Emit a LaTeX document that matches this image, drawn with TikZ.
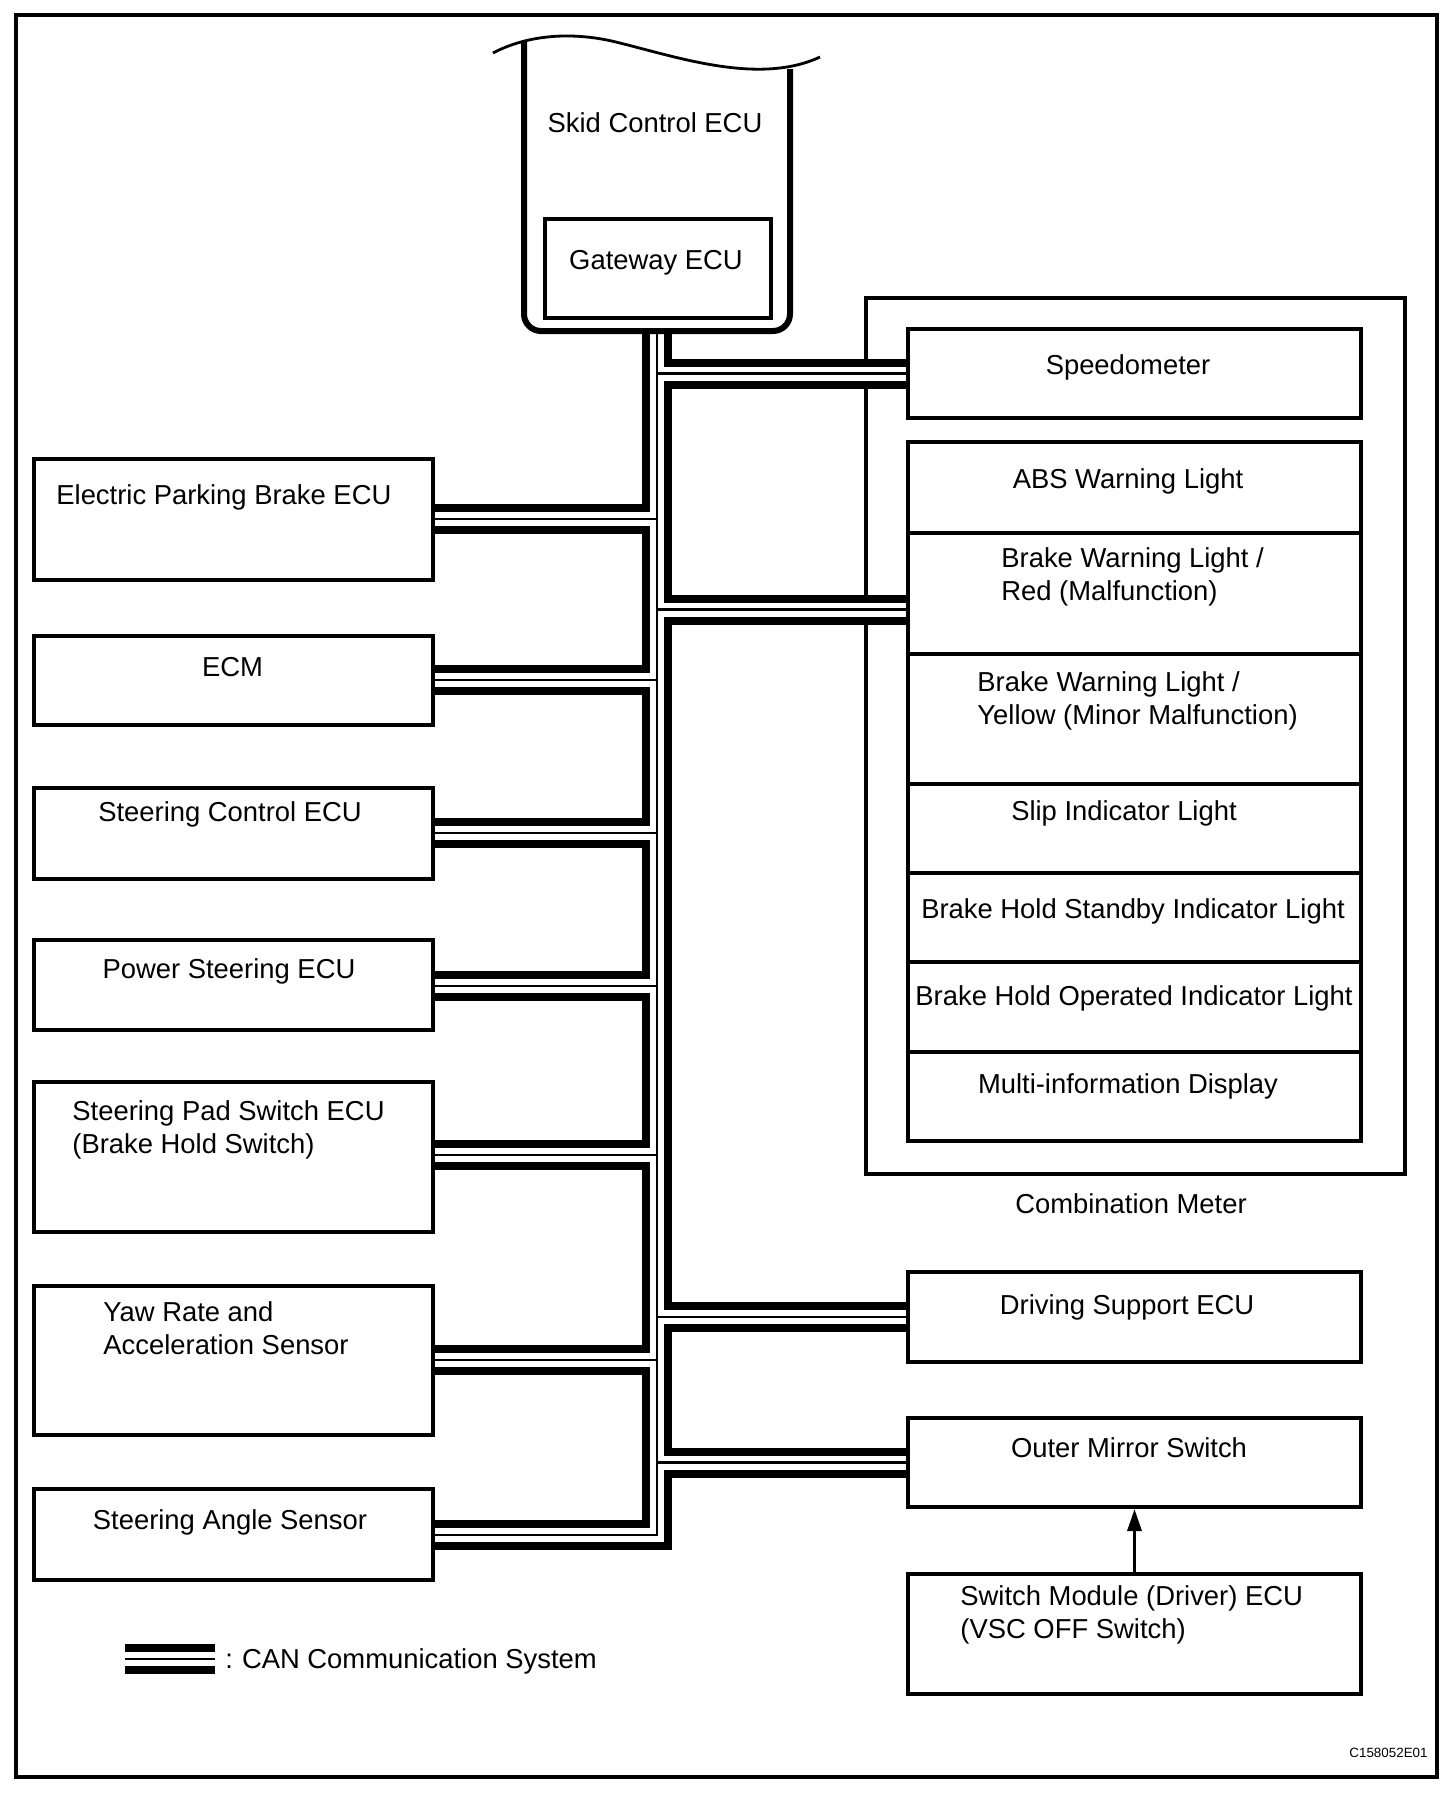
\documentclass[tikz,border=0pt]{standalone}
\usepackage{fontspec}
\setmainfont{Liberation Sans}
\usetikzlibrary{fit,arrows.meta}
\pgfdeclarelayer{back}
\pgfdeclarelayer{buslayer}
\pgfsetlayers{back,buslayer,main}
\newcommand\canbus[1]{%
  \draw[#1] (bt) -- (bb) -- (bb -| sas.east);
  \draw[#1] (jepb) -- (jepb -| epb.east);
  \draw[#1] (jecm) -- (jecm -| ecm.east);
  \draw[#1] (jstc) -- (jstc -| stc.east);
  \draw[#1] (jpst) -- (jpst -| pst.east);
  \draw[#1] (jspd) -- (jspd -| spd.east);
  \draw[#1] (jyaw) -- (jyaw -| yaw.east);
  \draw[#1] (jspo) -- (jspo -| speedo.west);
  \draw[#1] (jred) -- (jred -| red.west);
  \draw[#1] (jdrv) -- (jdrv -| drive.west);
  \draw[#1] (jmir) -- (jmir -| mirror.west);
}
\begin{document}
\begin{tikzpicture}[x=0.5pt,y=-0.5pt,
  box/.style={draw, line width=2pt, inner sep=0pt, fill=white},
  lbl/.style={inner sep=0pt, font=\fontsize{13.7}{16.5}\selectfont, align=left},
  arr/.style={line width=1.6pt, -{Triangle[length=11pt,width=7pt]}},
  busouter/.style={line width=15pt},
  businner/.style={white, line width=7pt},
  buscore/.style={line width=1.25pt}]
\useasboundingbox (0,0) rectangle (1456,1796);
\begin{pgfonlayer}{back}
\node[draw, line width=2pt, inner sep=0pt, fit={(16,15) (1437,1777)}] (frame) {};
\node[draw, line width=2pt, inner sep=0pt, fit={(866,298) (1405,1174)}] (meter) {};
\end{pgfonlayer}
% skid control ECU
\draw[line width=3pt, rounded corners=8.5pt] (524,41) -- (524,331) -- (790,331) -- (790,69);
\draw[line width=1.4pt] (493,53) .. controls (525,36) and (570,30) .. (620,43) .. controls (680,58) and (760,85) .. (820,57);
\node[lbl, anchor=base] (tskid) at (655,132) {Skid Control ECU};
\node[box, fit={(545,219) (771,318)}] (gw) {};
\node[lbl, anchor=base] (tgw) at (656,269) {Gateway ECU};
% right side boxes
\node[box, fit={(908,329) (1361,418)}] (speedo) {};
\node[box, fit={(908,442) (1361,532.6)}] (abs) {};
\node[box, fit={(908,532.6) (1361,654)}] (red) {};
\node[box, fit={(908,654) (1361,783.5)}] (yel) {};
\node[box, fit={(908,783.5) (1361,873)}] (slip) {};
\node[box, fit={(908,873) (1361,962)}] (stby) {};
\node[box, fit={(908,962) (1361,1051.5)}] (oper) {};
\node[box, fit={(908,1051.5) (1361,1141)}] (mid) {};
\node[box, fit={(908,1271.5) (1361,1362)}] (drive) {};
\node[box, fit={(908,1418) (1361,1507)}] (mirror) {};
\node[box, fit={(908,1574) (1361,1694)}] (swmod) {};
% left side boxes
\node[box, fit={(34,459) (433,580)}] (epb) {};
\node[box, fit={(34,636) (433,725)}] (ecm) {};
\node[box, fit={(34,788) (433,878.6)}] (stc) {};
\node[box, fit={(34,940) (433,1030)}] (pst) {};
\node[box, fit={(34,1082) (433,1232)}] (spd) {};
\node[box, fit={(34,1286) (433,1435)}] (yaw) {};
\node[box, fit={(34,1489) (433,1580)}] (sas) {};
% bus junctions
\coordinate (bt) at (657,331);
\coordinate (bb) at (657,1535);
\coordinate (jepb) at (657,519);
\coordinate (jecm) at (657,680);
\coordinate (jstc) at (657,833);
\coordinate (jpst) at (657,986);
\coordinate (jspd) at (657,1155);
\coordinate (jyaw) at (657,1360);
\coordinate (jspo) at (657,373.5);
\coordinate (jred) at (657,609.5);
\coordinate (jdrv) at (657,1317);
\coordinate (jmir) at (657,1462.5);
\begin{pgfonlayer}{buslayer}
\canbus{busouter}
\canbus{businner}
\canbus{buscore}
\end{pgfonlayer}
% texts
\node[lbl, anchor=base] (tspeedo) at (1128,374) {Speedometer};
\node[lbl, anchor=base] (tabs) at (1128,488) {ABS Warning Light};
\node[lbl, anchor=base west] (tred) at (1001,600.5) {Brake Warning Light /\\Red (Malfunction)};
\node[lbl, anchor=base west] (tyel) at (977,724) {Brake Warning Light /\\Yellow (Minor Malfunction)};
\node[lbl, anchor=base] (tslip) at (1124,820.5) {Slip Indicator Light};
\node[lbl, anchor=base] (tstby) at (1133,918) {Brake Hold Standby Indicator Light};
\node[lbl, anchor=base] (toper) at (1134,1005) {Brake Hold Operated Indicator Light};
\node[lbl, anchor=base] (tmid) at (1128,1093) {Multi-information Display};
\node[lbl, anchor=base] (tmeter) at (1131,1213.5) {Combination Meter};
\node[lbl, anchor=base] (tdrive) at (1127,1314) {Driving Support ECU};
\node[lbl, anchor=base] (tmirror) at (1129,1457.5) {Outer Mirror Switch};
\node[lbl, anchor=base west] (tswmod) at (960,1638) {Switch Module (Driver) ECU\\(VSC OFF Switch)};
\node[lbl, anchor=base west] (tepb) at (56,504) {Electric Parking Brake ECU};
\node[lbl, anchor=base] (tecm) at (232.5,676) {ECM};
\node[lbl, anchor=base] (tstc) at (230,821.5) {Steering Control ECU};
\node[lbl, anchor=base] (tpst) at (229,978.5) {Power Steering ECU};
\node[lbl, anchor=base west] (tspd) at (72,1153.5) {Steering Pad Switch ECU\\(Brake Hold Switch)};
\node[lbl, anchor=base west] (tyaw) at (103,1354) {Yaw Rate and\\Acceleration Sensor};
\node[lbl, anchor=base] (tsas) at (230,1529.5) {Steering Angle Sensor};
% arrow
\draw[arr] (swmod.north) -- (mirror.south);
% legend
\coordinate (lg1) at (125,1659);
\coordinate (lg2) at (215,1659);
\draw[busouter] (lg1) -- (lg2);
\draw[businner] (lg1) -- (lg2);
\draw[buscore] (lg1) -- (lg2);
\node[lbl, anchor=base west] (tleg) at (225,1668.5) {:\hspace{4.5pt}CAN Communication System};
\node[inner sep=0pt, anchor=base east, font=\fontsize{6.7}{8}\selectfont] (tcode) at (1428,1757) {C158052E01};
\end{tikzpicture}
\end{document}
